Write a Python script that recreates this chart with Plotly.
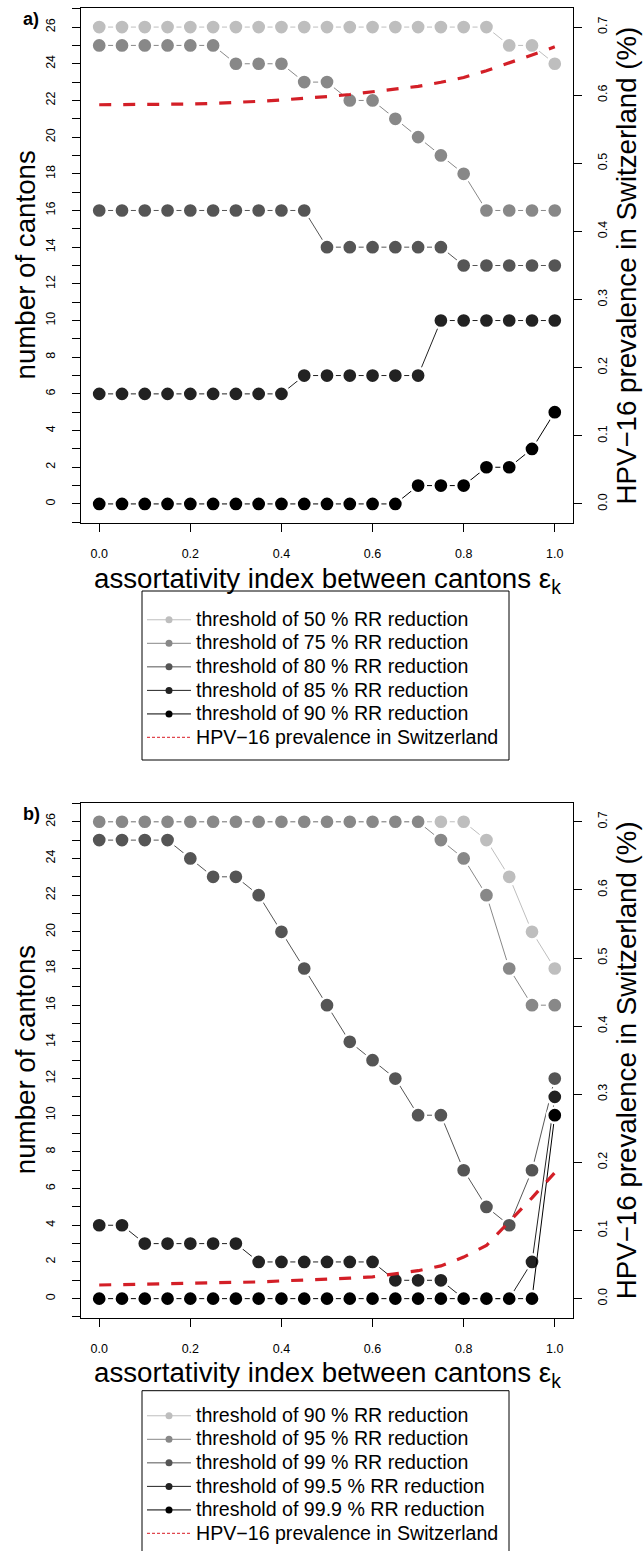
import plotly.graph_objects as go

# ---------------- data ----------------
eps = [0.0, 0.05, 0.1, 0.15, 0.2, 0.25, 0.3, 0.35, 0.4, 0.45, 0.5,
       0.55, 0.6, 0.65, 0.7, 0.75, 0.8, 0.85, 0.9, 0.95, 1.0]

# panel a) thresholds of RR reduction
a_labels = ["threshold of 50 % RR reduction", "threshold of 75 % RR reduction",
            "threshold of 80 % RR reduction", "threshold of 85 % RR reduction",
            "threshold of 90 % RR reduction"]
a_50 = [26, 26, 26, 26, 26, 26, 26, 26, 26, 26, 26, 26, 26, 26, 26, 26, 26, 26, 25, 25, 24]
a_75 = [25, 25, 25, 25, 25, 25, 24, 24, 24, 23, 23, 22, 22, 21, 20, 19, 18, 16, 16, 16, 16]
a_80 = [16, 16, 16, 16, 16, 16, 16, 16, 16, 16, 14, 14, 14, 14, 14, 14, 13, 13, 13, 13, 13]
a_85 = [6, 6, 6, 6, 6, 6, 6, 6, 6, 7, 7, 7, 7, 7, 7, 10, 10, 10, 10, 10, 10]
a_90 = [0, 0, 0, 0, 0, 0, 0, 0, 0, 0, 0, 0, 0, 0, 1, 1, 1, 2, 2, 3, 5]
a_prev = [0.586, 0.586, 0.586, 0.586, 0.587, 0.588, 0.589, 0.591, 0.593, 0.595, 0.598,
          0.601, 0.605, 0.609, 0.613, 0.619, 0.626, 0.636, 0.647, 0.659, 0.671]

# panel b)
b_labels = ["threshold of 90 % RR reduction", "threshold of 95 % RR reduction",
            "threshold of 99 % RR reduction", "threshold of 99.5 % RR reduction",
            "threshold of 99.9 % RR reduction"]
b_90 = [26, 26, 26, 26, 26, 26, 26, 26, 26, 26, 26, 26, 26, 26, 26, 26, 26, 25, 23, 20, 18]
b_95 = [26, 26, 26, 26, 26, 26, 26, 26, 26, 26, 26, 26, 26, 26, 26, 25, 24, 22, 18, 16, 16]
b_99 = [25, 25, 25, 25, 24, 23, 23, 22, 20, 18, 16, 14, 13, 12, 10, 10, 7, 5, 4, 7, 12]
b_995 = [4, 4, 3, 3, 3, 3, 3, 2, 2, 2, 2, 2, 2, 1, 1, 1, 0, 0, 0, 2, 11]
b_999 = [0, 0, 0, 0, 0, 0, 0, 0, 0, 0, 0, 0, 0, 0, 0, 0, 0, 0, 0, 0, 10]
b_prev = [0.020, 0.0205, 0.021, 0.0215, 0.022, 0.0228, 0.0235, 0.0245, 0.026, 0.027, 0.029,
          0.030, 0.032, 0.036, 0.041, 0.048, 0.061, 0.078, 0.113, 0.148, 0.185]

prev_label = "HPV\u221216 prevalence in Switzerland"

left_ticks = [0, 2, 4, 6, 8, 10, 12, 14, 16, 18, 20, 22, 24, 26]
left_ticktext = [str(v) for v in left_ticks]
right_ticks = [0.0, 0.1, 0.2, 0.3, 0.4, 0.5, 0.6, 0.7]
right_ticktext = ["0.0", "0.1", "0.2", "0.3", "0.4", "0.5", "0.6", "0.7"]
x_ticks = [0.0, 0.2, 0.4, 0.6, 0.8, 1.0]
x_ticktext = ["0.0", "0.2", "0.4", "0.6", "0.8", "1.0"]

# ---------------- styling ----------------
W, H = 644, 1551
greys = ["#BEBEBE", "#888888", "#555555", "#222222", "#000000"]
RED = "#D31F27"
FONT = "Liberation Sans, Arial, sans-serif"
LEG_TXT = 19.6
TITLE_SIZE = 27.7

PL, PR = 81, 573
PANELS = [(8, 523), (802.7, 1317.7)]
LEG_BOX = [(591, 760), (1390.7, 1562)]   # legend frame top/bottom (px)
LEG_TOP = [603, 1399]                    # legend item block top (px)


def px_x(p):
    return p / W


def px_y(p):
    return 1 - p / H


def leg_name(s):
    return '<span style="font-size:%.1fpx">%s</span>' % (LEG_TXT, s)


fig = go.Figure()

panels_data = [
    (a_labels, [a_50, a_75, a_80, a_85, a_90], a_prev),
    (b_labels, [b_90, b_95, b_99, b_995, b_999], b_prev),
]

for i, (labels, series, prev) in enumerate(panels_data):
    xa = "x" if i == 0 else "x2"
    ya = "y" if i == 0 else "y3"
    yb = "y2" if i == 0 else "y4"
    lg = "legend" if i == 0 else "legend2"
    for lab, vals, col in zip(labels, series, greys):
        fig.add_trace(go.Scatter(
            x=eps, y=vals, mode="lines+markers", xaxis=xa, yaxis=ya,
            line=dict(color=col, width=1),
            marker=dict(color=col, size=15.3, line=dict(color="white", width=2.6)),
            showlegend=False, hoverinfo="skip"))
    fig.add_trace(go.Scatter(
        x=eps, y=prev, mode="lines", xaxis=xa, yaxis=yb,
        line=dict(color=RED, width=3.2, dash="12px,12px"),
        showlegend=False, hoverinfo="skip"))
    # legend entries
    for lab, col in zip(labels, greys):
        fig.add_trace(go.Scatter(
            x=[None], y=[None], mode="lines+markers", xaxis=xa, yaxis=ya,
            line=dict(color=col, width=1), marker=dict(color=col, size=7),
            name=leg_name(lab), legend=lg))
    fig.add_trace(go.Scatter(
        x=[None], y=[None], mode="lines", xaxis=xa, yaxis=yb,
        line=dict(color="#E0474F", width=1.3, dash="3px,2px"),
        name=leg_name(prev_label), legend=lg))

axis_common = dict(showline=True, linecolor="black", linewidth=1, mirror=True,
                   ticks="outside", ticklen=8, tickwidth=1, tickcolor="black",
                   showgrid=False, zeroline=False,
                   tickfont=dict(family=FONT, size=12.5, color="black"))

layout = dict(
    width=W, height=H, margin=dict(l=0, r=0, t=0, b=0),
    paper_bgcolor="white", plot_bgcolor="white",
    font=dict(family=FONT, color="black"),
)

for i, (top, bot) in enumerate(PANELS):
    dom_x = [px_x(PL), px_x(PR)]
    dom_y = [px_y(bot), px_y(top)]
    xk = "xaxis" if i == 0 else "xaxis2"
    yk = "yaxis" if i == 0 else "yaxis3"
    yk2 = "yaxis2" if i == 0 else "yaxis4"
    yref = "y" if i == 0 else "y3"
    xref = "x" if i == 0 else "x2"
    layout[xk] = dict(axis_common, domain=dom_x, range=[-0.04, 1.04], anchor=yref,
                      tickvals=x_ticks, ticktext=x_ticktext, ticklabelstandoff=11)
    layout[yk] = dict(axis_common, domain=dom_y, range=[-1.04, 27.04], anchor=xref,
                      tickvals=left_ticks, ticktext=left_ticktext, tickangle=-90,
                      ticklabelstandoff=12,
                      minor=dict(ticks="outside", ticklen=8, tickwidth=1,
                                 tickcolor="black", dtick=1, tick0=0, showgrid=False))
    layout[yk2] = dict(axis_common, range=[-0.028, 0.728], overlaying=yref, side="right",
                       anchor=xref, tickvals=right_ticks, ticktext=right_ticktext,
                       tickangle=-90, ticklabelstandoff=10)

legend_common = dict(xanchor="left", yanchor="top", bgcolor="rgba(0,0,0,0)",
                     borderwidth=0,
                     font=dict(family=FONT, size=15.8, color="black"),
                     itemwidth=44, tracegroupgap=0)
layout["legend"] = dict(legend_common, x=px_x(142), y=px_y(LEG_TOP[0]))
layout["legend2"] = dict(legend_common, x=px_x(142), y=px_y(LEG_TOP[1]))

shapes = []
for (t, b) in LEG_BOX:
    shapes.append(dict(type="rect", xref="paper", yref="paper",
                       x0=px_x(142), x1=px_x(509), y0=px_y(b), y1=px_y(t),
                       line=dict(color="black", width=1), fillcolor="rgba(0,0,0,0)",
                       layer="below"))
layout["shapes"] = shapes

annotations = []
for i, (top, bot) in enumerate(PANELS):
    cy = (top + bot) / 2
    annotations.append(dict(text="<b>a)</b>" if i == 0 else "<b>b)</b>",
                            x=px_x(31), y=px_y(top + 11), xref="paper", yref="paper",
                            showarrow=False, xanchor="center", yanchor="middle",
                            font=dict(family=FONT, size=18)))
    annotations.append(dict(text="assortativity index between cantons \u03b5<sub>k</sub>",
                            x=px_x((PL + PR) / 2), y=px_y(bot + 57), xref="paper", yref="paper",
                            showarrow=False, xanchor="center", yanchor="middle",
                            font=dict(family=FONT, size=TITLE_SIZE)))
    annotations.append(dict(text="number of cantons", textangle=-90,
                            x=px_x(25), y=px_y(cy), xref="paper", yref="paper",
                            showarrow=False, xanchor="center", yanchor="middle",
                            font=dict(family=FONT, size=TITLE_SIZE)))
    annotations.append(dict(text=prev_label + " (%)", textangle=-90,
                            x=px_x(626), y=px_y(cy), xref="paper", yref="paper",
                            showarrow=False, xanchor="center", yanchor="middle",
                            font=dict(family=FONT, size=TITLE_SIZE)))
layout["annotations"] = annotations

fig.update_layout(**layout)

fig.write_html("out.html", config={"displayModeBar": False},
               post_script="document.body.style.margin='0';")
